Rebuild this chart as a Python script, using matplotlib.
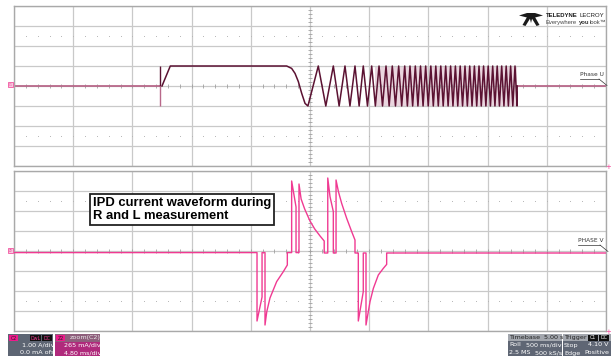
import numpy as np
import matplotlib
matplotlib.use('Agg')
import matplotlib.pyplot as plt
from matplotlib.patches import Rectangle, Polygon

# ---- data (screen divisions: x -5..5, y -4..4) ----
# upper trace (C1, Phase U)
up_base_left_t = [-5.0, -2.534]
up_base_right_t = [3.50, 5.0]
spike_t = -2.534
ramp_t = [-2.50, -2.36, -0.394, -0.31, -0.253, -0.197, -0.14, -0.084]
ramp_v = [0.0, 1.0, 1.0, 0.88, 0.63, 0.22, -0.37, -0.87]
chirp_troughs = [-0.035, 0.267, 0.492, 0.675, 0.830, 0.971, 1.104, 1.225, 1.337,
                 1.444, 1.549, 1.645, 1.734, 1.823, 1.910, 1.997, 2.083, 2.167,
                 2.250, 2.333, 2.415, 2.496, 2.577, 2.658, 2.737, 2.816, 2.893,
                 2.971, 3.048, 3.124, 3.200, 3.276, 3.351, 3.426, 3.497]
chirp_peaks = [0.140, 0.394, 0.591, 0.760, 0.900, 1.042, 1.166, 1.284, 1.390,
               1.498, 1.600, 1.689, 1.779, 1.867, 1.954, 2.041, 2.125, 2.209,
               2.292, 2.375, 2.456, 2.537, 2.618, 2.698, 2.777, 2.855, 2.932,
               3.010, 3.086, 3.162, 3.238, 3.314, 3.389, 3.463]
chirp_amp = 1.0

# lower trace (zoom of C2, Phase V current)
low_t = [-5.0, -0.895, -0.895, -0.81, -0.81, -0.76, -0.76, -0.73, -0.676, -0.563,
         -0.45, -0.383, -0.383, -0.31, -0.31, -0.236, -0.236, -0.186, -0.186,
         -0.15, -0.09, 0.0, 0.08, 0.17, 0.24, 0.24, 0.30, 0.30, 0.338, 0.394,
         0.394, 0.44, 0.44, 0.48, 0.535, 0.62, 0.704, 0.76, 0.76, 0.816, 0.816,
         0.90, 0.90, 0.946, 0.946, 1.014, 1.07, 1.154, 1.238, 1.295, 1.295, 5.0]
low_v = [-0.08, -0.08, -3.5, -2.3, -0.08, -0.08, -3.7, -3.03, -2.35, -1.53,
         -1.03, -0.7, -0.08, -0.08, 3.5, 2.2, -0.08, -0.08, 3.35,
         2.6, 2.1, 1.5, 1.1, 0.75, 0.5, -0.1, -0.1, 3.65, 2.72, 1.97,
         -0.1, -0.1, 3.55, 2.97, 2.38, 1.63, 0.97, 0.55, -0.1, -0.1, -3.5,
         -2.03, -0.1, -0.1, -3.7, -2.53, -1.87, -1.2, -0.87, -0.67, -0.1, -0.1]

maroon = '#5b1232'
maroon_light = '#b8688a'
pink = '#f03a92'
grid_c = '#c9c9c9'

W, H = 611, 356
fig = plt.figure(figsize=(W / 100, H / 100), dpi=100)
fig.patch.set_facecolor('white')


def px_axes(x0, y0, x1, y1):
    return fig.add_axes([x0 / W, 1 - y1 / H, (x1 - x0) / W, (y1 - y0) / H])


def scope_grid(ax):
    ax.set_xlim(-5, 5)
    ax.set_ylim(-4, 4)
    ax.set_xticks(range(-5, 6))
    ax.set_yticks(range(-4, 5))
    ax.grid(True, color=grid_c, lw=0.9)
    ax.tick_params(length=0, labelbottom=False, labelleft=False)
    for s in ax.spines.values():
        s.set_color('#a9a9a9')
        s.set_linewidth(1.0)
    xs = np.arange(-5, 5.001, 0.2)
    ys = np.arange(-4, 4.001, 0.2)
    ax.vlines(xs, -0.09, 0.09, color='#a0a0a0', lw=0.6)
    ax.hlines(ys, -0.04, 0.04, color='#a0a0a0', lw=0.6)
    for yy in (2.5, -2.5):
        ax.plot(xs, [yy] * len(xs), ls='none', marker='s', ms=0.7,
                color='#b5b5b5', mec='none')
    ax.set_facecolor('white')


# upper panel
ax1 = px_axes(14, 6, 606, 166)
scope_grid(ax1)
ax1.plot(up_base_left_t, [0, 0], color=maroon_light, lw=1.3)
ax1.plot(up_base_right_t, [0, 0], color=maroon_light, lw=1.3)
ax1.vlines(spike_t, 0, 1, color=maroon, lw=1.0)
ax1.vlines(spike_t, -1, 0, color=maroon_light, lw=1.0)
ex_t = np.empty(len(chirp_troughs) + len(chirp_peaks))
ex_t[0::2] = chirp_troughs
ex_t[1::2] = chirp_peaks
ex_v = np.empty_like(ex_t)
ex_v[0::2] = -chirp_amp
ex_v[1::2] = chirp_amp
tr_t = list(ramp_t) + list(ex_t) + [up_base_right_t[0]]
tr_v = list(ramp_v) + list(ex_v) + [0.0]
ax1.fill_between([1.1, 3.5], -1, 1, color='#ead6df', lw=0, zorder=1.5)
ax1.plot(tr_t, tr_v, color=maroon, lw=1.1, zorder=3)

# lower panel
ax2 = px_axes(14, 171, 606, 331)
scope_grid(ax2)
ax2.plot(low_t, low_v, color=pink, lw=1.0, zorder=3)

# overlay in pixel coordinates
ov = fig.add_axes([0, 0, 1, 1])
ov.set_xlim(0, W)
ov.set_ylim(H, 0)
ov.axis('off')

# annotation box
ov.text(93, 209.5, 'IPD current waveform during\nR and L measurement',
        fontsize=9.4, fontweight='bold', family='Liberation Sans',
        ha='left', va='center', linespacing=1.15,
        bbox=dict(boxstyle='square,pad=0.22', fc='white', ec='#222222', lw=1.3))

# trace labels
ov.text(580, 77, 'Phase U', fontsize=4.2, color='#333333', ha='left', va='bottom')
ov.plot([580, 599], [78.5, 78.5], color='#333333', lw=0.5)
ov.plot([599, 607], [79, 85.5], color='#333333', lw=0.5)
ov.text(578, 243, 'PHASE V', fontsize=4.2, color='#333333', ha='left', va='bottom')
ov.plot([578, 600], [244.5, 244.5], color='#333333', lw=0.5)
ov.plot([600, 608], [245, 251.5], color='#333333', lw=0.5)

# channel markers on the left
for yy, lab in ((85, 'C1'), (251, 'Z2')):
    ov.add_patch(Rectangle((8, yy - 3), 5, 5, fc='#f7c8de', ec=pink, lw=0.5))
    ov.text(10.5, yy - 0.5, lab, fontsize=2.2, color=pink, ha='center', va='center')

for yy in (167, 332):
    ov.text(608.5, yy, '+', fontsize=5, color=pink, ha='center', va='center')

# Teledyne LeCroy logo
ov.add_patch(Polygon([(519, 15.5), (527, 13), (535, 13), (543, 15.5), (535, 17.5),
                      (527, 17.5)], closed=True, fc='#1a1a1a', ec='none'))
ov.add_patch(Polygon([(527, 17), (531, 17), (525.5, 26), (522.5, 25)],
                     closed=True, fc='#1a1a1a', ec='none'))
ov.add_patch(Polygon([(531, 17), (535, 17), (539.5, 25), (536.5, 26)],
                     closed=True, fc='#1a1a1a', ec='none'))
ov.add_patch(Polygon([(529.5, 17), (532.5, 17), (531, 23)],
                     closed=True, fc='#1a1a1a', ec='none'))
ov.text(546, 15.5, 'TELEDYNE', fontsize=4.3, fontweight='bold', family='Liberation Sans',
        color='#1a1a1a', ha='left', va='center')
ov.text(580, 15.5, 'LECROY', fontsize=4.3, family='Liberation Sans',
        color='#1a1a1a', ha='left', va='center')
ov.text(546, 22.5, 'Everywhere', fontsize=4.2, family='Liberation Sans',
        color='#444444', ha='left', va='center')
ov.text(578.5, 22.5, 'you', fontsize=4.2, fontweight='bold', family='Liberation Sans',
        color='#333333', ha='left', va='center')
ov.text(589.5, 22.5, 'look\u2122', fontsize=4.2, family='Liberation Sans',
        color='#444444', ha='left', va='center')

# bottom info boxes
fs = 4.6
ov.add_patch(Rectangle((8, 334), 45, 24, fc='#5d6573', ec='none'))
ov.add_patch(Rectangle((9, 335), 9, 6, fc='#ee1a8c', ec='none'))
ov.text(13.5, 338, 'C2', fontsize=3.4, color='#222222', ha='center', va='center')
ov.add_patch(Rectangle((30, 335), 11, 6, fc='#111111', ec='none'))
ov.text(35.5, 338, 'DwL', fontsize=3.4, color=pink, ha='center', va='center')
ov.add_patch(Rectangle((42, 335), 10, 6, fc='#111111', ec='none'))
ov.text(47, 338, 'DC', fontsize=3.4, color=pink, ha='center', va='center')
ov.text(54, 345, '1.00 A/div', fontsize=fs, color='white', ha='right', va='center')
ov.text(54, 353, '0.0 mA ofs', fontsize=fs, color='white', ha='right', va='center')

ov.add_patch(Rectangle((55, 334), 45, 8, fc='#8e5f7c', ec='none'))
ov.add_patch(Rectangle((55, 342), 45, 16, fc='#b02a7c', ec='none'))
ov.add_patch(Rectangle((56, 335), 9, 6, fc='#ee1a8c', ec='none'))
ov.text(60.5, 338, 'Z2', fontsize=3.4, color='#222222', ha='center', va='center')
ov.text(101, 338, 'zoom(C2)', fontsize=fs, color='#e8e8e8', ha='right', va='center')
ov.text(101, 345, '265 mA/div', fontsize=fs, color='white', ha='right', va='center')
ov.text(101, 353, '4.80 ms/div', fontsize=fs, color='white', ha='right', va='center')

ov.add_patch(Rectangle((508, 334), 54, 24, fc='#5f6674', ec='none'))
ov.add_patch(Rectangle((508, 334), 54, 7, fc='#a3a7ae', ec='none'))
ov.text(509, 337.7, 'Timebase', fontsize=fs, color='#222222', ha='left', va='center')
ov.text(563, 337.7, '5.00 s', fontsize=fs, color='#222222', ha='right', va='center')
ov.text(509, 345, 'Roll', fontsize=fs, color='white', ha='left', va='center')
ov.text(562, 345, '500 ms/div', fontsize=fs, color='white', ha='right', va='center')
ov.text(509, 353, '2.5 MS', fontsize=fs, color='white', ha='left', va='center')
ov.text(562, 353, '500 kS/s', fontsize=fs, color='white', ha='right', va='center')

ov.add_patch(Rectangle((563, 334), 48, 24, fc='#5f6674', ec='none'))
ov.add_patch(Rectangle((563, 334), 48, 7, fc='#a3a7ae', ec='none'))
ov.text(564, 337.7, 'Trigger', fontsize=fs, color='#222222', ha='left', va='center')
ov.add_patch(Rectangle((588, 335), 10, 5.5, fc='#111111', ec='none'))
ov.text(593, 337.7, 'C1', fontsize=3.4, color='white', ha='center', va='center')
ov.add_patch(Rectangle((599, 335), 10, 5.5, fc='#111111', ec='none'))
ov.text(604, 337.7, 'DC', fontsize=3.4, color='white', ha='center', va='center')
ov.text(564, 345, 'Stop', fontsize=fs, color='white', ha='left', va='center')
ov.text(609, 345, '4.10 V', fontsize=fs, color='white', ha='right', va='center')
ov.text(564, 353, 'Edge', fontsize=fs, color='white', ha='left', va='center')
ov.text(609, 353, 'Positive', fontsize=fs, color='white', ha='right', va='center')

fig.savefig('out.png', dpi=100)
